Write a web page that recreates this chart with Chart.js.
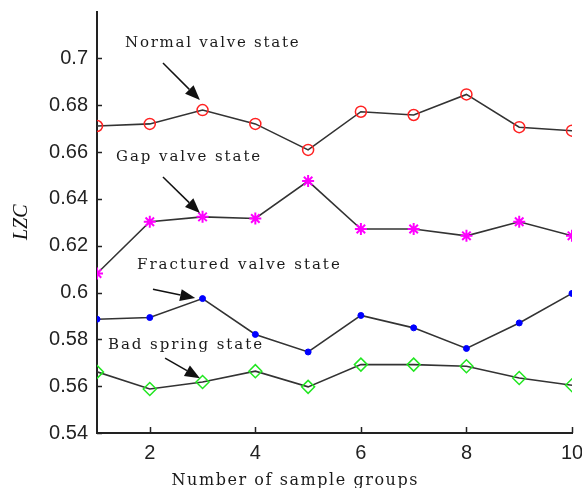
<!DOCTYPE html>
<html>
<head>
<meta charset="utf-8">
<script src="https://cdn.jsdelivr.net/npm/chart.js@4.4.0/dist/chart.umd.min.js"></script>
<style>
  html, body { margin: 0; padding: 0; background: #fff; }
</style>
</head>
<body>
<canvas id="c" width="582" height="488"></canvas>
<script>
// ===== DATA =====
const groups = [1, 2, 3, 4, 5, 6, 7, 8, 9, 10];
const normalValve = [0.6711, 0.672, 0.6779, 0.672, 0.6609, 0.6772, 0.6758, 0.6846, 0.6706, 0.6691];
const gapValve = [0.6081, 0.6302, 0.6323, 0.6316, 0.6476, 0.6271, 0.6271, 0.6242, 0.6302, 0.6242];
const fracturedValve = [0.5886, 0.5893, 0.5974, 0.5821, 0.5746, 0.5902, 0.5849, 0.5761, 0.587, 0.5996];
const badSpring = [0.5661, 0.5588, 0.5618, 0.5664, 0.5597, 0.5692, 0.5692, 0.5685, 0.5635, 0.5604];
const seriesNames = ["Normal valve state", "Gap valve state", "Fractured valve state", "Bad spring state"];
const xTicks = [2, 4, 6, 8, 10];
const yTicks = [0.54, 0.56, 0.58, 0.6, 0.62, 0.64, 0.66, 0.68, 0.7];
const xTitle = "Number of sample groups";
const yTitle = "LZC";

// text labels + arrows, placed in data units
const notes = [
  { text: seriesNames[0], tx: 1.531, ty: 0.705, from: [2.25, 0.698], to: [2.95, 0.6822] },
  { text: seriesNames[1], tx: 1.36, ty: 0.6561, from: [2.25, 0.6493], to: [2.95, 0.6339] },
  { text: seriesNames[2], tx: 1.758, ty: 0.6101, from: [2.06, 0.6014], to: [2.86, 0.5976] },
  { text: seriesNames[3], tx: 1.2085, ty: 0.5759, from: [2.29, 0.572], to: [2.95, 0.5634] },
];

const pts = (arr) => groups.map((g, i) => ({ x: g, y: arr[i] }));
const LINE = "#333";
const SERIF = "'DejaVu Serif', serif";
const SANS = "'Liberation Sans', Arial, sans-serif";

// draw text spread out to a given width (old plot fonts are wide-spaced)
function spaced(ctx, text, x, y, width) {
  const chars = [...text];
  const w = chars.reduce((s, ch) => s + ctx.measureText(ch).width, 0);
  const sp = (width - w) / (chars.length - 1);
  ctx.textAlign = "left";
  let cx = x;
  chars.forEach((ch) => {
    ctx.fillText(ch, cx, y);
    cx += ctx.measureText(ch).width + sp;
  });
}

const notesPlugin = {
  id: "notes",
  afterDraw(chart) {
    const { ctx, scales } = chart;
    const xs = scales.x, ys = scales.y;
    const ca = chart.chartArea;
    ctx.save();
    // inward tick marks
    ctx.strokeStyle = "#222";
    ctx.lineWidth = 1.5;
    yTicks.forEach((v) => {
      const py = Math.round(ys.getPixelForValue(v)) + 0.5;
      ctx.beginPath();
      ctx.moveTo(ca.left, py);
      ctx.lineTo(ca.left + 5, py);
      ctx.stroke();
    });
    xTicks.forEach((v) => {
      const px = Math.round(xs.getPixelForValue(v)) + 0.5;
      ctx.beginPath();
      ctx.moveTo(px, ca.bottom);
      ctx.lineTo(px, ca.bottom - 6);
      ctx.stroke();
    });
    // annotations
    ctx.font = "15px " + SERIF;
    ctx.textBaseline = "alphabetic";
    notes.forEach((n) => {
      ctx.fillStyle = "#1a1a1a";
      spaced(ctx, n.text, xs.getPixelForValue(n.tx), ys.getPixelForValue(n.ty), n.text.length * 9.75 - 2);
      const x1 = xs.getPixelForValue(n.from[0]), y1 = ys.getPixelForValue(n.from[1]);
      const x2 = xs.getPixelForValue(n.to[0]), y2 = ys.getPixelForValue(n.to[1]);
      const a = Math.atan2(y2 - y1, x2 - x1);
      const hl = 15, hw = 6;
      const bx = x2 - hl * Math.cos(a), by = y2 - hl * Math.sin(a);
      ctx.strokeStyle = "#111";
      ctx.lineWidth = 1.5;
      ctx.beginPath();
      ctx.moveTo(x1, y1);
      ctx.lineTo(bx, by);
      ctx.stroke();
      ctx.beginPath();
      ctx.moveTo(x2, y2);
      ctx.lineTo(bx + hw * Math.sin(a), by - hw * Math.cos(a));
      ctx.lineTo(bx - hw * Math.sin(a), by + hw * Math.cos(a));
      ctx.closePath();
      ctx.fillStyle = "#111";
      ctx.fill();
    });
    // x axis title
    ctx.font = "16px " + SERIF;
    ctx.fillStyle = "#1a1a1a";
    const tw = 246;
    const xt = (ca.left + ca.right) / 2 - 40 - tw / 2;
    spaced(ctx, xTitle, xt, chart.height - 3, tw);
    ctx.restore();
  },
};

const fmt = (v) => String(Number(v.toFixed(2)));
const noPad = (s) => { s.paddingTop = 0; s.paddingBottom = 0; s.paddingLeft = 0; s.paddingRight = 0; };

new Chart(document.getElementById("c"), {
  type: "line",
  data: {
    datasets: [
      {
        label: seriesNames[0],
        data: pts(normalValve),
        borderColor: LINE,
        borderWidth: 1.6,
        pointStyle: "circle",
        pointRadius: 5.5,
        pointBorderColor: "#f22",
        pointBackgroundColor: "rgba(0,0,0,0)",
        pointBorderWidth: 1.5,
      },
      {
        label: seriesNames[1],
        data: pts(gapValve),
        borderColor: LINE,
        borderWidth: 1.6,
        pointStyle: "star",
        pointRadius: 6,
        pointBorderColor: "#ff00ff",
        pointBackgroundColor: "#ff00ff",
        pointBorderWidth: 2,
      },
      {
        label: seriesNames[2],
        data: pts(fracturedValve),
        borderColor: LINE,
        borderWidth: 1.6,
        pointStyle: "circle",
        pointRadius: 3,
        pointBorderColor: "#0000ff",
        pointBackgroundColor: "#0000ff",
        pointBorderWidth: 1,
      },
      {
        label: seriesNames[3],
        data: pts(badSpring),
        borderColor: LINE,
        borderWidth: 1.6,
        pointStyle: "rectRot",
        pointRadius: 6.5,
        pointBorderColor: "#22e622",
        pointBackgroundColor: "rgba(0,0,0,0)",
        pointBorderWidth: 1.5,
      },
    ],
  },
  options: {
    responsive: false,
    animation: false,
    devicePixelRatio: 1,
    layout: { padding: { top: 11.5, right: 10, left: 0, bottom: 0 } },
    plugins: { legend: { display: false }, tooltip: { enabled: false } },
    elements: { line: { tension: 0 } },
    scales: {
      x: {
        type: "linear",
        min: 1,
        max: 10,
        afterFit: (s) => { s.height = 55; noPad(s); },
        ticks: {
          stepSize: 2,
          includeBounds: false,
          color: "#222",
          padding: 8,
          font: { family: SANS, size: 20 },
          maxRotation: 0,
        },
        grid: { display: true, drawOnChartArea: false, drawTicks: false },
        border: { display: true, color: "#222", width: 2 },
      },
      y: {
        min: 0.54,
        max: 0.72,
        afterFit: (s) => { s.width = 97; noPad(s); },
        ticks: {
          stepSize: 0.02,
          includeBounds: false,
          color: "#222",
          padding: 9,
          callback: (v) => (v > 0.71 ? "" : fmt(v)),
          font: { family: SANS, size: 20 },
        },
        grid: { display: true, drawOnChartArea: false, drawTicks: false },
        border: { display: true, color: "#222", width: 2 },
        title: {
          display: true,
          text: yTitle,
          color: "#111",
          font: { family: "'Liberation Serif', serif", size: 20, style: "italic" },
          padding: { top: 10, bottom: 0 },
        },
      },
    },
  },
  plugins: [notesPlugin],
});
</script>
</body>
</html>
